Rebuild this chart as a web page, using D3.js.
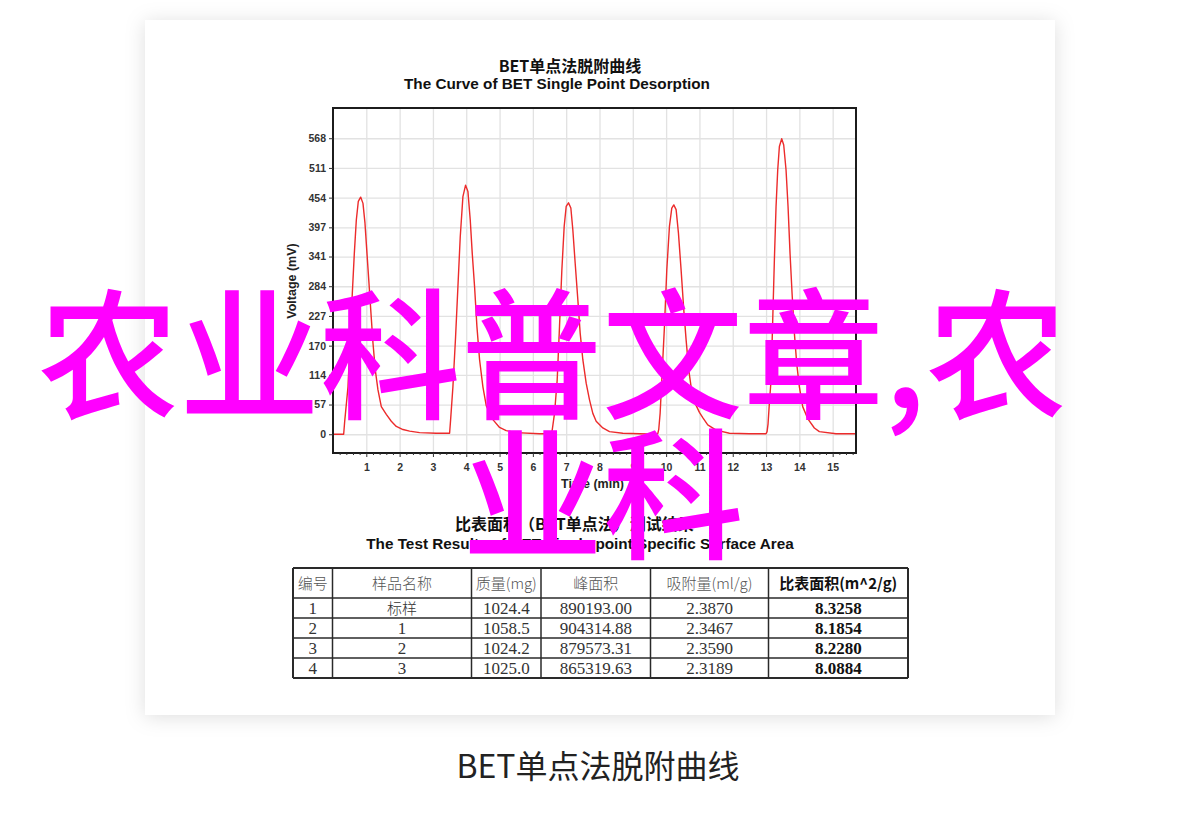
<!DOCTYPE html>
<html><head><meta charset="utf-8">
<script src="https://cdn.jsdelivr.net/npm/d3@7"></script>
<style>html,body{margin:0;padding:0;background:#fff;} svg{display:block}</style>
</head><body>
<svg id="c" width="1200" height="819"></svg>
<script>
// ---------- data ----------
const chartTitleZh = "BET单点法脱附曲线";
const chartTitleEn = "The Curve of BET Single Point Desorption";
const xLabel = "Time (min)";
const yLabel = "Voltage (mV)";
const yTickValues = [0, 57, 114, 170, 227, 284, 341, 397, 454, 511, 568];
const xTickValues = [1, 2, 3, 4, 5, 6, 7, 8, 9, 10, 11, 12, 13, 14, 15];
const timeMin = [0, 0.32, 0.35, 0.45, 0.52, 0.58, 0.64, 0.70, 0.76, 0.83, 0.90, 0.96, 1.02, 1.08, 1.14, 1.20, 1.27, 1.35, 1.45, 1.6, 1.75, 1.9, 2.1, 2.3, 2.6, 3.1, 3.45,
  3.5, 3.53, 3.6, 3.68, 3.75, 3.82, 3.9, 3.98, 4.05, 4.12, 4.18, 4.25, 4.32, 4.4, 4.5, 4.6, 4.8, 5.0, 5.2, 5.5, 6.2, 6.55,
  6.58, 6.65, 6.73, 6.8, 6.87, 6.94, 7.0, 7.07, 7.14, 7.2, 7.27, 7.35, 7.42, 7.5, 7.6, 7.7, 7.8, 7.9, 8.1, 8.3, 8.7, 9.2, 9.72,
  9.75, 9.78, 9.82, 9.88, 9.95, 10.02, 10.1, 10.17, 10.23, 10.3, 10.37, 10.45, 10.53, 10.6, 10.68, 10.75, 10.85, 11.0, 11.1, 11.25, 11.5, 11.9, 12.5, 13.0,
  13.03, 13.06, 13.1, 13.15, 13.2, 13.25, 13.3, 13.35, 13.4, 13.47, 13.53, 13.6, 13.66, 13.72, 13.78, 13.85, 13.92, 14.0, 14.1, 14.25, 14.45, 14.6, 15.1, 15.7];
const voltage = [0, 0, 24, 91, 187, 271, 347, 411, 447, 455, 443, 405, 347, 290, 232, 175, 123, 85, 53, 38, 25, 15, 9, 6, 3, 2, 2,
  2, 27, 91, 187, 283, 379, 456, 478, 466, 411, 347, 283, 207, 143, 91, 55, 28, 13, 7, 3, 1, 1,
  8, 40, 104, 207, 315, 399, 437, 444, 434, 392, 328, 258, 194, 143, 98, 66, 40, 25, 12, 5, 2, 1, 0,
  1, 10, 40, 117, 207, 315, 399, 434, 440, 431, 386, 315, 239, 181, 123, 91, 62, 42, 32, 18, 8, 2, 1, 1,
  5, 20, 60, 104, 219, 335, 437, 507, 552, 567, 555, 507, 437, 347, 271, 194, 136, 91, 53, 30, 12, 5, 1, 1];

const tableTitleZh = "比表面积（BET单点法）测试结果";
const tableTitleEn = "The Test Results of BET Single point Specific Surface Area";
const tableHeaders = ["编号", "样品名称", "质量(mg)", "峰面积", "吸附量(ml/g)", "比表面积(m^2/g)"];
const sampleNo = [1, 2, 3, 4];
const sampleName = ["标样", "1", "2", "3"];
const massMg = [1024.4, 1058.5, 1024.2, 1025.0];
const peakArea = [890193.00, 904314.88, 879573.31, 865319.63];
const adsorption = [2.3870, 2.3467, 2.3590, 2.3189];
const specificArea = [8.3258, 8.1854, 8.2280, 8.0884];

const overlayLines = ["农业科普文章,农", "业科"];
const caption = "BET单点法脱附曲线";

// ---------- drawing ----------
const svg = d3.select("#c");
const defs = svg.append("defs");
const flt = defs.append("filter").attr("id", "sh").attr("x", "-10%").attr("y", "-10%").attr("width", "120%").attr("height", "120%");
flt.append("feDropShadow").attr("dx", 0).attr("dy", 2).attr("stdDeviation", 10)
  .attr("flood-color", "#000").attr("flood-opacity", 0.13);

svg.append("rect").attr("x", 145).attr("y", 20).attr("width", 910).attr("height", 695)
  .attr("fill", "#fff").attr("filter", "url(#sh)");
svg.append("rect").attr("x", 417).attr("y", 741).attr("width", 346).attr("height", 60).attr("fill", "#fff");

const x = d3.scaleLinear().domain([0, 15.7]).range([333, 856]);
const y = d3.scaleLinear().domain([-36, 626]).range([453, 108]);
const [x0, x1] = x.range();
const [y0, y1] = y.range();

// grid via axes
svg.append("g").attr("transform", `translate(0,${y0})`)
  .call(d3.axisBottom(x).tickValues(xTickValues).tickSize(-(y0 - y1)).tickFormat(""))
  .call(g => { g.select(".domain").remove(); g.selectAll("line").attr("stroke", "#e2e2e2").attr("stroke-width", 1.3); });
svg.append("g").attr("transform", `translate(${x0},0)`)
  .call(d3.axisLeft(y).tickValues(yTickValues).tickSize(-(x1 - x0)).tickFormat(""))
  .call(g => { g.select(".domain").remove(); g.selectAll("line").attr("stroke", "#e2e2e2").attr("stroke-width", 1.3); });

// curve
const pts = timeMin.map((t, i) => [t, voltage[i]]);
svg.append("path").datum(pts)
  .attr("d", d3.line().x(d => x(d[0])).y(d => y(d[1])))
  .attr("fill", "none").attr("stroke", "#ec2b2b").attr("stroke-width", 1.4).attr("stroke-linejoin", "round");

// frame
svg.append("rect").attr("x", x0).attr("y", y1).attr("width", x1 - x0).attr("height", y0 - y1)
  .attr("fill", "none").attr("stroke", "#1c1c1c").attr("stroke-width", 2);

const styleAxis = g => {
  g.attr("font-family", "Liberation Sans, Arial, sans-serif");
  g.select(".domain").remove();
  g.selectAll("text").attr("font-weight", "bold").attr("font-size", 10.5).attr("fill", "#333");
  g.selectAll("line").attr("stroke", "#333");
};
svg.append("g").attr("transform", `translate(${x0},0)`)
  .call(d3.axisLeft(y).tickValues(yTickValues).tickSize(4).tickPadding(3).tickFormat(d3.format("d")))
  .call(styleAxis);
svg.append("g").attr("transform", `translate(0,${y0})`)
  .call(d3.axisBottom(x).tickValues(xTickValues).tickSize(4).tickPadding(7).tickFormat(d3.format("d")))
  .call(styleAxis);
const minor = d3.range(1, 79).map(i => i * 0.2).filter(v => Math.abs(v - Math.round(v)) > 0.01);
svg.append("g").attr("transform", `translate(0,${y0})`)
  .call(d3.axisBottom(x).tickValues(minor).tickSize(2).tickFormat(""))
  .call(styleAxis);

// titles
const sansZh = "Noto Sans CJK SC, sans-serif";
const sansEn = "Liberation Sans, Arial, sans-serif";
svg.append("text").attr("x", 570).attr("y", 72).attr("text-anchor", "middle")
  .attr("font-family", sansZh).attr("font-weight", "bold").attr("font-size", 16).attr("fill", "#111").text(chartTitleZh);
svg.append("text").attr("x", 557).attr("y", 89).attr("text-anchor", "middle")
  .attr("font-family", sansEn).attr("font-weight", "bold").attr("font-size", 15.3).attr("fill", "#111").text(chartTitleEn);
svg.append("text").attr("x", (x0 + x1) / 2 - 2).attr("y", 488).attr("text-anchor", "middle")
  .attr("font-family", sansEn).attr("font-weight", "bold").attr("font-size", 12.5).attr("fill", "#222").text(xLabel);
svg.append("text").attr("transform", "translate(296,281) rotate(-90)").attr("text-anchor", "middle")
  .attr("font-family", sansEn).attr("font-weight", "bold").attr("font-size", 12.5).attr("fill", "#222").text(yLabel);

// table titles
svg.append("text").attr("x", 455).attr("y", 530)
  .attr("font-family", sansZh).attr("font-weight", "bold").attr("font-size", 16).attr("fill", "#111").text(tableTitleZh);
svg.append("text").attr("x", 580).attr("y", 549).attr("text-anchor", "middle")
  .attr("font-family", sansEn).attr("font-weight", "bold").attr("font-size", 15.3).attr("fill", "#111").text(tableTitleEn);

// table
const colEdges = [293, 332.5, 471.5, 541, 650.5, 768.5, 908];
const rowEdges = [568, 598, 618, 638, 658, 678];
const tg = svg.append("g");
colEdges.forEach((cx, i) => tg.append("line").attr("x1", cx).attr("x2", cx).attr("y1", rowEdges[0]).attr("y2", rowEdges[rowEdges.length - 1])
  .attr("stroke", "#2a2a2a").attr("stroke-width", (i === 0 || i === colEdges.length - 1) ? 2 : 1.5));
rowEdges.forEach((ry, i) => tg.append("line").attr("x1", colEdges[0]).attr("x2", colEdges[colEdges.length - 1]).attr("y1", ry).attr("y2", ry)
  .attr("stroke", "#2a2a2a").attr("stroke-width", (i === 0 || i === rowEdges.length - 1) ? 2 : 1.5));
const colMid = i => (colEdges[i] + colEdges[i + 1]) / 2;
tableHeaders.forEach((h, i) => {
  tg.append("text").attr("x", colMid(i)).attr("y", 589).attr("text-anchor", "middle")
    .attr("font-family", sansZh).attr("font-size", 15)
    .attr("font-weight", i === 5 ? "bold" : 300)
    .attr("fill", i === 5 ? "#111" : "#555").text(h);
});
const rows = sampleNo.map((n, i) => [String(n), sampleName[i], massMg[i].toFixed(1), peakArea[i].toFixed(2), adsorption[i].toFixed(4), specificArea[i].toFixed(4)]);
rows.forEach((r, ri) => {
  const cy = (rowEdges[ri + 1] + rowEdges[ri + 2]) / 2 + 5.5;
  r.forEach((v, ci) => {
    const isZh = /[\u4e00-\u9fff]/.test(v);
    tg.append("text").attr("x", colMid(ci)).attr("y", cy).attr("text-anchor", "middle")
      .attr("font-family", isZh ? sansZh : "Liberation Serif, serif")
      .attr("font-size", isZh ? 15 : 17)
      .attr("font-weight", ci === 5 ? "bold" : (isZh ? 300 : "normal"))
      .attr("fill", ci === 5 ? "#111" : "#333").text(v);
  });
});

// overlay text
svg.append("text").attr("x", 38).attr("y", 408)
  .attr("font-family", sansZh).attr("font-weight", 500).attr("font-size", 141).attr("fill", "#ff00ff").text(overlayLines[0]);
svg.append("text").attr("x", 462).attr("y", 548)
  .attr("font-family", sansZh).attr("font-weight", 500).attr("font-size", 141).attr("fill", "#ff00ff").text(overlayLines[1]);

// caption
svg.append("text").attr("x", 598).attr("y", 778).attr("text-anchor", "middle")
  .attr("font-family", sansZh).attr("font-size", 32).attr("fill", "#222").text(caption);
</script>
</body></html>
